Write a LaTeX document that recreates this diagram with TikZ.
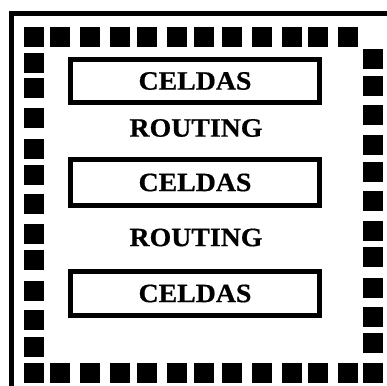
\documentclass[tikz,border=0pt]{standalone}
\usepackage{fontspec}
\newfontfamily\celdafont[FakeStretch=1.05, FakeBold=0.6]{Liberation Serif Bold}
\usetikzlibrary{positioning}

\begin{document}
\begin{tikzpicture}[x=1pt, y=-1pt,
    pad/.style={fill=black, inner sep=0pt, minimum size=20pt, anchor=north west},
    celda/.style={draw=black, line width=5pt, minimum width=249pt, inner sep=0pt, font=\celdafont\fontsize{26.5}{30}\selectfont},
    routing/.style={inner sep=0pt, font=\celdafont\fontsize{26.5}{30}\selectfont}]
  \clip (0,0) rectangle (387,385);

  % Outer frame
  \draw[line width=5pt] (11.5,14) rectangle (400,400);

  % Pads along the border
  \foreach \x [count=\i] in {24,50,80,110,137,167,194,222,252,282,308,338} {
    \node[pad] (top\i) at (\x,27) {};
    \node[pad] (bot\i) at (\x,363) {};
  }
  \node[pad] (bot13) at (363,363) {};
  \foreach \y [count=\i] in {53,78,108,139,165,194,224,250,281,310,337}
    \node[pad] (left\i) at (24,\y) {};
  \foreach \y [count=\i] in {49,76,105,135,162,191,221,247,278,307,333}
    \node[pad] (right\i) at (363,\y) {};

  % Cell rows and routing channels
  \node[celda, minimum height=43pt] (celdas1) at (195,81) {CELDAS};
  \node[routing] (routing1) at (196,128) {ROUTING};
  \node[celda, minimum height=46pt] (celdas2) at (195,182.5) {CELDAS};
  \node[routing] (routing2) at (196,237.5) {ROUTING};
  \node[celda, minimum height=44pt] (celdas3) at (195,293.5) {CELDAS};
\end{tikzpicture}
\end{document}
